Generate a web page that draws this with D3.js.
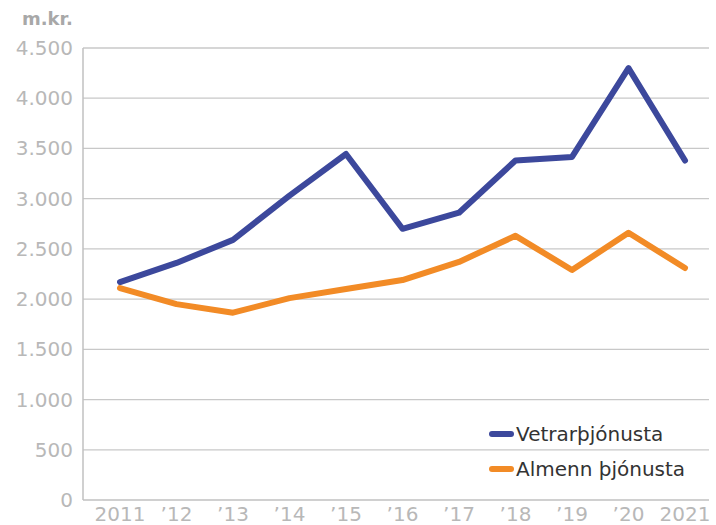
<!DOCTYPE html>
<html><head><meta charset="utf-8">
<script src="https://cdn.jsdelivr.net/npm/d3@7"></script>
<style>body{margin:0;background:#fff;}svg{display:block;font-family:"DejaVu Sans",sans-serif;}</style>
</head><body><svg id="c" width="716" height="525"></svg>
<script>
const years = [2011,2012,2013,2014,2015,2016,2017,2018,2019,2020,2021];
const xLabels = ["2011","\u201912","\u201913","\u201914","\u201915","\u201916","\u201917","\u201918","\u201919","\u201920","2021"];
const vetrar = [2170,2360,2590,3030,3445,2700,2860,3380,3415,4300,3380];
const almenn = [2110,1950,1865,2010,2100,2190,2370,2630,2290,2660,2310];
const yTicks = [0,500,1000,1500,2000,2500,3000,3500,4000,4500];
const seriesNames = ["Vetrarþjónusta","Almenn þjónusta"];
const colors = ["#3c489c","#f28b26"];

const svg = d3.select("#c");
const x = d3.scalePoint().domain(years).range([120,685]);
const y = d3.scaleLinear().domain([0,4500]).range([500,48]);
const fmt = v => d3.format(",")(v).replace(/,/g,".");

svg.append("g").selectAll("line").data(yTicks.filter(d=>d>0)).join("line")
  .attr("x1",83).attr("x2",709).attr("y1",d=>y(d)).attr("y2",d=>y(d))
  .attr("stroke","#c8c8c8").attr("stroke-width",1.3);
svg.append("line").attr("x1",83).attr("x2",83).attr("y1",y(4500)).attr("y2",y(0)).attr("stroke","#c0c0c0").attr("stroke-width",1.5);
svg.append("line").attr("x1",83).attr("x2",709).attr("y1",y(0)).attr("y2",y(0)).attr("stroke","#c0c0c0").attr("stroke-width",1.5);

svg.append("g").selectAll("text").data(yTicks).join("text")
  .attr("x",73).attr("y",d=>y(d)+7).attr("text-anchor","end")
  .attr("font-size",20).attr("fill","#b8b8b8").text(fmt);
svg.append("g").selectAll("text").data(years).join("text")
  .attr("x",d=>x(d)).attr("y",521).attr("text-anchor","middle")
  .attr("font-size",20).attr("fill","#b8b8b8").text((d,i)=>xLabels[i]);
svg.append("text").attr("x",22).attr("y",25).attr("font-size",18).attr("font-weight","bold").attr("fill","#a8a8a8").text("m.kr.");

const line = d3.line().x((d,i)=>x(years[i])).y(d=>y(d));
[[almenn,colors[1]],[vetrar,colors[0]]].forEach(([s,c])=>{
  svg.append("path").datum(s).attr("d",line).attr("fill","none").attr("stroke",c)
    .attr("stroke-width",6).attr("stroke-linejoin","round").attr("stroke-linecap","round");
});

const lg = svg.append("g");
seriesNames.forEach((n,i)=>{
  const yy = 434 + i*35;
  lg.append("line").attr("x1",492).attr("x2",511).attr("y1",yy).attr("y2",yy)
    .attr("stroke",colors[i]).attr("stroke-width",6).attr("stroke-linecap","round");
  lg.append("text").attr("x",516).attr("y",yy+7).attr("font-size",20).attr("fill","#333").text(n);
});
</script></body></html>
